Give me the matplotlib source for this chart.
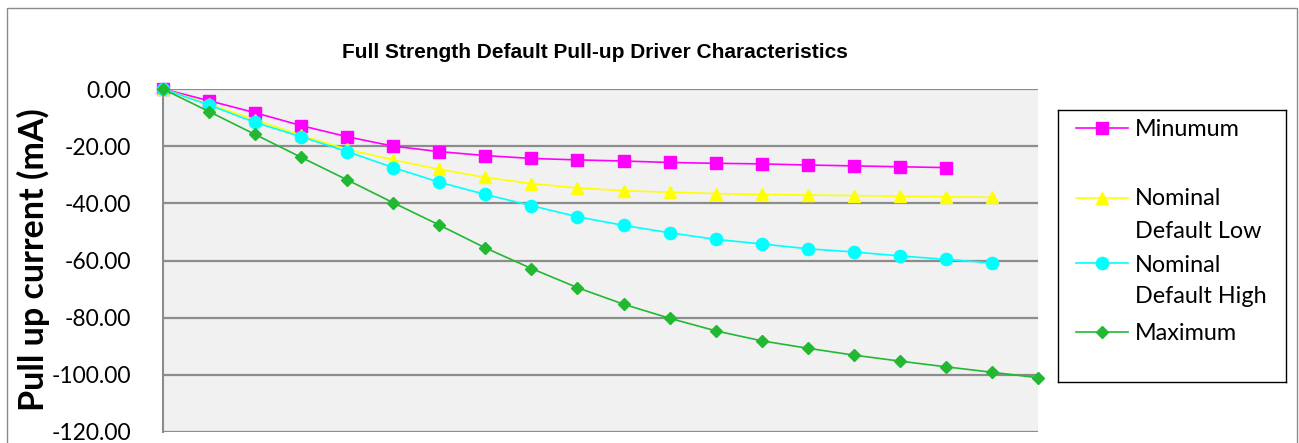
"""Full strength default pull-up driver characteristics (reference chart recreation)."""
import matplotlib
matplotlib.use("Agg")
import matplotlib.pyplot as plt
from matplotlib.patches import Rectangle
from matplotlib.lines import Line2D

W, H = 1299, 443

# point index along the (unlabelled) category axis
series_names = ["Minumum", "Nominal Default Low", "Nominal Default High", "Maximum"]
legend_lines = [["Minumum"], ["Nominal", "Default Low"], ["Nominal", "Default High"], ["Maximum"]]

minimum = [0.0, -4.1, -8.3, -12.8, -16.7, -20.0, -21.9, -23.3, -24.3, -24.8,
           -25.2, -25.7, -26.0, -26.2, -26.6, -26.9, -27.2, -27.5]
nominal_low = [0.0, -5.3, -10.8, -16.2, -21.1, -24.8, -28.1, -30.9, -33.1, -34.6,
               -35.6, -36.1, -36.6, -36.9, -37.1, -37.3, -37.5, -37.7, -37.9]
nominal_high = [0.0, -5.6, -11.7, -16.7, -21.9, -27.5, -32.6, -36.9, -40.8, -44.7,
                -47.7, -50.3, -52.6, -54.2, -55.9, -57.0, -58.4, -59.6, -60.9]
maximum = [0.0, -7.9, -15.9, -23.9, -31.8, -39.8, -47.6, -55.6, -62.8, -69.5,
           -75.3, -80.2, -84.6, -88.1, -90.7, -93.1, -95.2, -97.2, -99.1, -101.0]

yticks = [0, -20, -40, -60, -80, -100, -120]

colors = ["#FF00FF", "#FFFF00", "#00FFFF", "#22B832"]
markers = ["s", "^", "o", "D"]
msizes = [8.5, 8.5, 8.8, 6.0]
data = [minimum, nominal_low, nominal_high, maximum]

FONT = "Lato"

fig = plt.figure(figsize=(W / 100, H / 100), dpi=100)
fig.patch.set_facecolor("white")

# outer chart border
fig.add_artist(Rectangle((7 / W, -0.1), 1290 / W, 1.1 - 8 / H, transform=fig.transFigure,
                         fill=False, edgecolor="#8A8A8A", lw=1.0))

ax = fig.add_axes([163 / W, 1 - 432 / H, 875 / W, 343 / H])
ax.set_facecolor("#F1F1F1")
for s in ["top", "right", "bottom"]:
    ax.spines[s].set_visible(False)
ax.spines["left"].set_color("#8C8C8C")
ax.spines["left"].set_linewidth(1.5)

for y in yticks:
    ax.axhline(y, color="#8C8C8C", lw=1.6, zorder=1)

for vals, clr, mk, ms, name in zip(data, colors, markers, msizes, series_names):
    ax.plot(range(len(vals)), vals, color=clr, marker=mk, ms=ms, lw=1.2,
            label=name, zorder=3, clip_on=False)

ax.set_xlim(0, 19)
ax.set_ylim(-120, 0)
ax.set_xticks([])
ax.set_yticks(yticks)
ax.set_yticklabels([f"{v:.2f}" for v in yticks], fontsize=16.5, family=FONT)
ax.tick_params(axis="y", length=0, pad=23)

fig.text(595 / W, 1 - 53 / H, "Full Strength Default Pull-up Driver Characteristics",
         ha="center", va="center", fontsize=15, fontweight="bold",
         family=["Liberation Sans", "DejaVu Sans"])
fig.text(33 / W, 1 - 260 / H, "Pull up current (mA)", rotation=90, ha="center",
         va="center", fontsize=24.5, fontweight="bold", family=FONT)

# legend drawn in its own box (pixel coordinates inside the box)
lax = fig.add_axes([1058 / W, 1 - 382 / H, 228 / W, 272 / H])
lax.set_xlim(0, 228)
lax.set_ylim(272, 0)
lax.set_xticks([])
lax.set_yticks([])
for s in lax.spines.values():
    s.set_color("black")
    s.set_linewidth(1.0)

marker_y = [18, 88, 153, 222]
baselines = [[26], [95, 128], [162, 193], [230]]
for clr, mk, ms, my, lines, bls in zip(colors, markers, msizes, marker_y, legend_lines, baselines):
    lax.add_line(Line2D([18, 70], [my, my], color=clr, lw=1.2))
    lax.plot([44], [my], marker=mk, color=clr, ms=ms)
    for txt, bl in zip(lines, bls):
        lax.text(77, bl, txt, fontsize=16.8, family=FONT, va="baseline", ha="left")

fig.savefig("out.png", dpi=100)
